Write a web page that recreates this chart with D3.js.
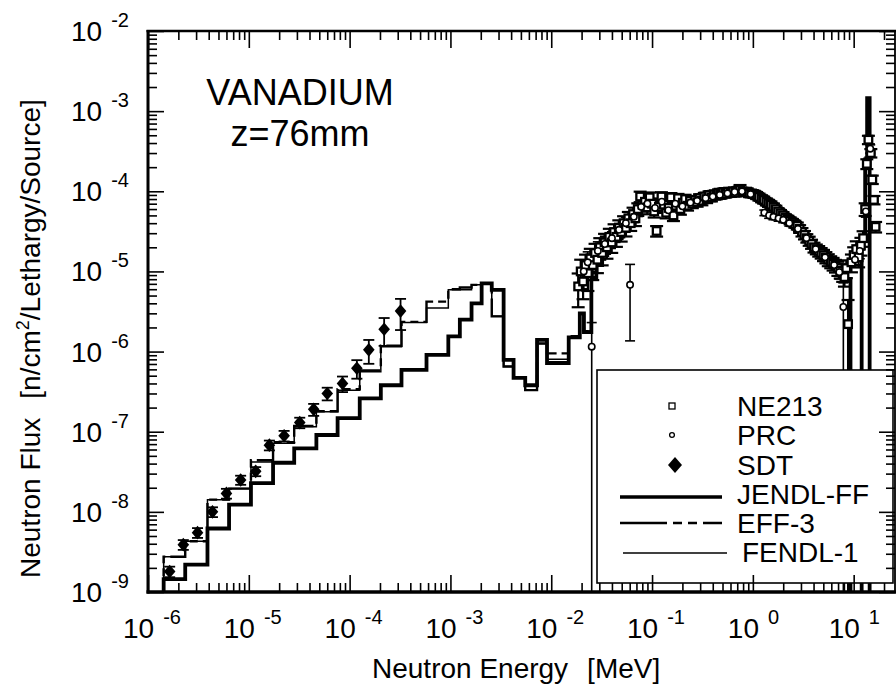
<!DOCTYPE html>
<html>
<head>
<meta charset="utf-8">
<script src="https://cdn.jsdelivr.net/npm/d3@7"></script>
<style>
  body { margin: 0; background: #fff; }
  svg { display: block; }
  text { font-family: "Liberation Sans", Arial, Helvetica, sans-serif; fill: #000; }
</style>
</head>
<body>
<svg id="chart" width="896" height="685"></svg>
<script>
// ---- Group structure shared by the three calculations (MeV) ----
const groupEdges = [
  1.43e-6, 2.34e-6, 3.89e-6, 6.37e-6, 1.05e-5, 1.74e-5, 2.82e-5, 4.68e-5, 7.6e-5, 1.26e-4,
  2.04e-4, 3.27e-4, 5.79e-4, 9.53e-4,
  1.24e-3, 1.62e-3, 2.04e-3, 2.57e-3, 3.37e-3, 4.23e-3, 5.52e-3, 7.23e-3, 9.08e-3, 1.49e-2,
  1.92e-2, 2.11e-2, 2.5e-2,
  2.8e-2, 3.2e-2, 3.6e-2, 4.2e-2, 5.0e-2, 5.8e-2, 6.7e-2, 7.8e-2, 9.0e-2, 0.105,
  0.12, 0.14, 0.165, 0.19, 0.22, 0.26, 0.30, 0.35, 0.41, 0.50,
  0.60, 0.72, 0.86, 1.0, 1.2, 1.4, 1.7, 2.0, 2.4, 2.9,
  3.5, 4.2, 5.0, 6.0, 7.2, 8.6, 9.3, 12.0, 13.0, 13.6, 14.4
];

// Group fluxes, n/cm2/lethargy/source (0 = empty group, off scale)
const jendlFF = [
  1.45e-9, 2.2e-9, 6.2e-9, 1.23e-8, 2.28e-8, 4.1e-8, 6.2e-8, 9.1e-8, 1.48e-7, 2.6e-7,
  3.8e-7, 5.9e-7, 9.1e-7,
  1.55e-6, 2.5e-6, 4.0e-6, 7.1e-6, 5.9e-6, 7.9e-7, 4.7e-7, 3.8e-7, 1.4e-6, 7.2e-7,
  1.5e-6, 3.0e-6, 1.75e-6,
  8.0e-6, 1.2e-5, 1.6e-5, 2.0e-5, 2.6e-5, 3.3e-5, 4.0e-5, 5.0e-5, 7.0e-5, 7.8e-5,
  5.5e-5, 7.6e-5, 6.0e-5, 7.2e-5, 6.6e-5, 7.0e-5, 7.4e-5, 8.0e-5, 8.6e-5, 9.2e-5,
  9.6e-5, 9.9e-5, 1.0e-4, 9.6e-5, 8.8e-5, 7.8e-5, 6.9e-5, 5.8e-5, 4.8e-5, 4.0e-5,
  3.1e-5, 2.4e-5, 1.9e-5, 1.5e-5, 1.2e-5, 9.5e-6, 8.0e-6, 0, 2.5e-5, 2.5e-4, 1.45e-3
];
const eff3 = [
  2.75e-9, 4.3e-9, 1.42e-8, 1.95e-8, 4.4e-8, 7.4e-8, 1.18e-7, 1.8e-7, 3.4e-7, 5.8e-7,
  1.18e-6, 2.35e-6, 4.2e-6,
  6.0e-6, 6.3e-6, 6.8e-6, 7.1e-6, 2.75e-6, 6.5e-7, 4.7e-7, 3.3e-7, 1.26e-6, 9.5e-7,
  1.55e-6, 2.9e-6, 1.8e-6,
  8.5e-6, 1.25e-5, 1.65e-5, 2.1e-5, 2.7e-5, 3.4e-5, 4.2e-5, 5.2e-5, 7.2e-5, 8.0e-5,
  5.8e-5, 7.8e-5, 6.2e-5, 7.4e-5, 6.8e-5, 7.2e-5, 7.6e-5, 8.2e-5, 8.8e-5, 9.4e-5,
  9.8e-5, 1.0e-4, 1.0e-4, 9.5e-5, 8.6e-5, 7.6e-5, 6.7e-5, 5.6e-5, 4.7e-5, 3.9e-5,
  3.0e-5, 2.35e-5, 1.85e-5, 1.45e-5, 1.15e-5, 9.2e-6, 7.8e-6, 0, 2.4e-5, 2.4e-4, 1.4e-3
];
const fendl1 = [
  2.75e-9, 4.3e-9, 1.42e-8, 1.95e-8, 4.2e-8, 7.2e-8, 1.15e-7, 1.78e-7, 3.3e-7, 5.6e-7,
  1.15e-6, 2.3e-6, 3.5e-6,
  5.9e-6, 5.9e-6, 6.8e-6, 7.1e-6, 2.75e-6, 6.5e-7, 4.7e-7, 3.3e-7, 1.26e-6, 8.0e-7,
  1.5e-6, 2.9e-6, 1.8e-6,
  8.2e-6, 1.22e-5, 1.62e-5, 2.05e-5, 2.65e-5, 3.35e-5, 4.1e-5, 5.1e-5, 7.1e-5, 7.9e-5,
  5.6e-5, 7.7e-5, 6.1e-5, 7.3e-5, 6.7e-5, 7.1e-5, 7.5e-5, 8.1e-5, 8.7e-5, 9.3e-5,
  9.7e-5, 1.0e-4, 1.0e-4, 9.6e-5, 8.7e-5, 7.7e-5, 6.8e-5, 5.7e-5, 4.75e-5, 3.95e-5,
  3.05e-5, 2.4e-5, 1.9e-5, 1.5e-5, 1.18e-5, 9.4e-6, 7.9e-6, 0, 2.5e-5, 2.45e-4, 1.42e-3
];

// ---- Measurements: [energy MeV, flux, relative error] ----
const ne213 = [
  [0.0185, 6.5e-6, 0.45], [0.0196, 1.0e-5, 0.4], [0.0207, 7.5e-6, 0.4], [0.0219, 1.2e-5, 0.35],
  [0.0231, 9.5e-6, 0.4], [0.0244, 1.45e-5, 0.32], [0.0258, 1.2e-5, 0.35], [0.0272, 1.7e-5, 0.3],
  [0.0287, 1.4e-5, 0.32], [0.0303, 2.0e-5, 0.3], [0.032, 1.7e-5, 0.3], [0.0338, 2.3e-5, 0.28],
  [0.0357, 2.0e-5, 0.28], [0.0377, 2.7e-5, 0.26], [0.0398, 2.3e-5, 0.26], [0.042, 3.1e-5, 0.25],
  [0.0443, 2.7e-5, 0.25], [0.0468, 3.5e-5, 0.24], [0.0494, 3.1e-5, 0.24], [0.0522, 4.0e-5, 0.22],
  [0.0551, 3.5e-5, 0.22], [0.0582, 4.6e-5, 0.2], [0.0614, 4.0e-5, 0.2], [0.0648, 5.2e-5, 0.2],
  [0.0684, 4.6e-5, 0.2], [0.0722, 6.0e-5, 0.18], [0.0762, 8.6e-5, 0.15], [0.0805, 6.8e-5, 0.18],
  [0.085, 7.4e-5, 0.16], [0.0897, 6.3e-5, 0.18], [0.0947, 8.4e-5, 0.15], [0.1, 7.0e-5, 0.16],
  [0.105, 5.6e-5, 0.16], [0.111, 3.2e-5, 0.15], [0.117, 6.4e-5, 0.15], [0.124, 8.6e-5, 0.13],
  [0.131, 6.8e-5, 0.15], [0.138, 5.4e-5, 0.15], [0.146, 6.2e-5, 0.15], [0.154, 8.4e-5, 0.13],
  [0.163, 5.0e-5, 0.15], [0.172, 6.6e-5, 0.15], [0.181, 8.2e-5, 0.13], [0.191, 6.0e-5, 0.15],
  [0.202, 7.2e-5, 0.13], [0.213, 8.0e-5, 0.13], [0.225, 6.6e-5, 0.13], [0.238, 7.6e-5, 0.13],
  [0.251, 7.0e-5, 0.12], [0.265, 7.8e-5, 0.12], [0.28, 7.3e-5, 0.12], [0.296, 8.2e-5, 0.12],
  [0.312, 7.6e-5, 0.12], [0.33, 8.6e-5, 0.11], [0.348, 8.0e-5, 0.11], [0.368, 9.0e-5, 0.11],
  [0.388, 8.4e-5, 0.11], [0.41, 9.2e-5, 0.1], [0.433, 8.8e-5, 0.1], [0.457, 9.6e-5, 0.1],
  [0.482, 9.0e-5, 0.1], [0.51, 9.8e-5, 0.1], [0.538, 9.3e-5, 0.1], [0.568, 9.9e-5, 0.1],
  [0.6, 9.5e-5, 0.1], [0.634, 1.0e-4, 0.1], [0.669, 9.6e-5, 0.1], [0.707, 1.02e-4, 0.1],
  [0.746, 1.05e-4, 0.14], [0.788, 1.0e-4, 0.1], [0.832, 9.7e-5, 0.1], [0.878, 9.9e-5, 0.1],
  [0.927, 9.4e-5, 0.1], [0.979, 9.4e-5, 0.1], [1.034, 9.2e-5, 0.1], [1.09, 8.9e-5, 0.1],
  [1.15, 8.5e-5, 0.1], [1.22, 8.1e-5, 0.1], [1.28, 7.8e-5, 0.1], [1.36, 7.4e-5, 0.1],
  [1.43, 7.1e-5, 0.1], [1.51, 6.8e-5, 0.1], [1.6, 6.4e-5, 0.1], [1.69, 6.0e-5, 0.1],
  [1.78, 5.6e-5, 0.1], [1.88, 5.3e-5, 0.1], [1.99, 5.0e-5, 0.1], [2.1, 4.7e-5, 0.1],
  [2.22, 4.5e-5, 0.1], [2.34, 4.3e-5, 0.1], [2.47, 4.1e-5, 0.1], [2.61, 3.9e-5, 0.1],
  [2.76, 3.7e-5, 0.1], [2.91, 3.4e-5, 0.11], [3.07, 3.1e-5, 0.12], [3.25, 2.85e-5, 0.12],
  [3.43, 2.6e-5, 0.12], [3.62, 2.4e-5, 0.13], [3.82, 2.2e-5, 0.13], [4.04, 2.0e-5, 0.14],
  [4.26, 1.9e-5, 0.14], [4.5, 1.8e-5, 0.15], [4.76, 1.7e-5, 0.15], [5.02, 1.6e-5, 0.16],
  [5.3, 1.5e-5, 0.16], [5.6, 1.4e-5, 0.17], [5.92, 1.32e-5, 0.17], [6.25, 1.25e-5, 0.18],
  [6.6, 1.18e-5, 0.18], [6.97, 1.1e-5, 0.2], [7.36, 1.02e-5, 0.2], [7.78, 9.5e-6, 0.22],
  [8.1, 8.5e-6, 0.24], [8.45, 1.1e-5, 0.25], [8.8, 2.2e-6, 1.0], [9.5, 1.3e-5, 0.25],
  [10.0, 1.6e-5, 0.25], [10.6, 1.9e-5, 0.25], [11.2, 1.5e-5, 0.25], [11.8, 2.1e-5, 0.25],
  [12.4, 2.6e-5, 0.22], [13.0, 6.0e-5, 0.18], [13.5, 2.2e-4, 0.14], [14.0, 4.4e-4, 0.12],
  [14.8, 3.0e-4, 0.12], [15.3, 1.4e-4, 0.12], [15.9, 7.8e-5, 0.12], [16.5, 3.6e-5, 0.15]
];

const prc = [
  [0.021, 1.0e-5, 0.4], [0.023, 1.3e-5, 0.35], [0.0252, 1.15e-6, 1.0], [0.029, 1.8e-5, 0.3],
  [0.034, 2.2e-5, 0.25], [0.04, 2.6e-5, 0.2], [0.047, 3.3e-5, 0.2], [0.055, 4.0e-5, 0.18],
  [0.0605, 6.8e-6, 0.8], [0.066, 4.8e-5, 0.15], [0.078, 6.4e-5, 0.12], [0.09, 7.0e-5, 0.12],
  [0.107, 6.2e-5, 0.1], [0.125, 7.4e-5, 0.1], [0.145, 5.8e-5, 0.1], [0.17, 7.0e-5, 0.1],
  [0.2, 6.5e-5, 0.08], [0.24, 7.2e-5, 0.08], [0.28, 7.6e-5, 0.08], [0.34, 8.2e-5, 0.07],
  [0.4, 8.6e-5, 0.07], [0.47, 9.0e-5, 0.07], [0.56, 9.4e-5, 0.07], [0.66, 9.8e-5, 0.07],
  [0.78, 1.0e-4, 0.07], [0.95, 9.2e-5, 0.07], [1.3, 5.4e-5, 0.08], [1.45, 5.0e-5, 0.08],
  [1.6, 4.8e-5, 0.08], [1.8, 4.6e-5, 0.08], [2.0, 4.4e-5, 0.08], [2.3, 4.0e-5, 0.08],
  [2.8, 3.4e-5, 0.08], [3.4, 2.6e-5, 0.1], [4.2, 1.9e-5, 0.1], [5.2, 1.5e-5, 0.12],
  [6.4, 1.2e-5, 0.14], [7.2, 9.8e-6, 0.18], [7.9, 3.6e-6, 1.0], [10.3, 1.4e-5, 0.2],
  [11.5, 1.8e-5, 0.2], [13.2, 5.6e-5, 0.15], [14.6, 3.4e-4, 0.12]
];

const sdt = [
  [1.64e-6, 1.8e-9, 0.15], [2.24e-6, 3.9e-9, 0.14], [3.1e-6, 5.5e-9, 0.14], [4.36e-6, 1.0e-8, 0.14],
  [6.0e-6, 1.7e-8, 0.14], [8.3e-6, 2.5e-8, 0.13], [1.17e-5, 3.2e-8, 0.13], [1.6e-5, 6.8e-8, 0.14],
  [2.24e-5, 8.9e-8, 0.15], [3.2e-5, 1.3e-7, 0.15], [4.4e-5, 1.9e-7, 0.17], [6.0e-5, 3.0e-7, 0.18],
  [8.5e-5, 4.0e-7, 0.22], [1.18e-4, 6.2e-7, 0.26], [1.55e-4, 1.05e-6, 0.33], [2.2e-4, 1.9e-6, 0.38],
  [3.2e-4, 3.2e-6, 0.42]
];

// ---- Axis labelling ----
const xDecades = [-6, -5, -4, -3, -2, -1, 0, 1];
const yDecades = [-9, -8, -7, -6, -5, -4, -3, -2];
const legendEntries = ["NE213", "PRC", "SDT", "JENDL-FF", "EFF-3", "FENDL-1"];

// ---- Layout ----
const svg = d3.select("#chart");
const x = d3.scaleLog().domain([1e-6, 25.7]).range([148, 895]);
const y = d3.scaleLog().domain([1e-9, 1e-2]).range([592, 31]);
const floorV = 1e-10;   // values below the axis are drawn to here and clipped
const [x0, x1] = x.range();
const [yb, yt] = y.range();

svg.append("defs").append("clipPath").attr("id", "plotClip")
  .append("rect").attr("x", x0).attr("y", yt).attr("width", x1 - x0).attr("height", yb - yt);

const plot = svg.append("g").attr("clip-path", "url(#plotClip)");
const yv = v => y(Math.max(v, floorV));

// Histogram step lines
function stepPoints(edges, vals) {
  const pts = [[edges[0], floorV]];
  vals.forEach((v, i) => pts.push([edges[i], Math.max(v, floorV)]));
  pts.push([edges[edges.length - 1], Math.max(vals[vals.length - 1], floorV)]);
  pts.push([edges[edges.length - 1], floorV]);
  return pts;
}
const stepLine = d3.line().x(d => x(d[0])).y(d => y(d[1])).curve(d3.curveStepAfter);

plot.append("path").attr("d", stepLine(stepPoints(groupEdges, fendl1)))
  .attr("fill", "none").attr("stroke", "#000").attr("stroke-width", 1.5);
plot.append("path").attr("d", stepLine(stepPoints(groupEdges, eff3)))
  .attr("fill", "none").attr("stroke", "#000").attr("stroke-width", 2.4)
  .attr("stroke-dasharray", "30,5,8,5,8,5");
plot.append("path").attr("d", stepLine(stepPoints(groupEdges, jendlFF)))
  .attr("fill", "none").attr("stroke", "#000").attr("stroke-width", 3.8)
  .attr("stroke-linejoin", "miter");

// Error bars with caps
function errorBars(g, data, cap, sw) {
  const sel = g.append("g").selectAll("g").data(data).join("g");
  sel.append("line")
    .attr("x1", d => x(d[0])).attr("x2", d => x(d[0]))
    .attr("y1", d => yv(d[1] * (1 - d[2]))).attr("y2", d => yv(d[1] * (1 + d[2])))
    .attr("stroke", "#000").attr("stroke-width", sw);
  [-1, 1].forEach(s => {
    sel.append("line")
      .attr("x1", d => x(d[0]) - cap / 2).attr("x2", d => x(d[0]) + cap / 2)
      .attr("y1", d => yv(d[1] * (1 + s * d[2]))).attr("y2", d => yv(d[1] * (1 + s * d[2])))
      .attr("stroke", "#000").attr("stroke-width", sw);
  });
}
errorBars(plot, ne213, 13, 2.2);
errorBars(plot, prc, 10, 1.6);
errorBars(plot, sdt, 11, 1.8);

plot.append("g").selectAll("rect").data(ne213).join("rect")
  .attr("x", d => x(d[0]) - 3.8).attr("y", d => yv(d[1]) - 3.8)
  .attr("width", 7.6).attr("height", 7.6)
  .attr("fill", "#fff").attr("stroke", "#000").attr("stroke-width", 2.3);
plot.append("g").selectAll("circle").data(prc).join("circle")
  .attr("cx", d => x(d[0])).attr("cy", d => yv(d[1])).attr("r", 3.2)
  .attr("fill", "#fff").attr("stroke", "#000").attr("stroke-width", 1.6);
const diamondPath = (w, h) => `M0,${-h}L${w},0L0,${h}L${-w},0Z`;
plot.append("g").selectAll("path").data(sdt).join("path")
  .attr("transform", d => `translate(${x(d[0])},${yv(d[1])})`)
  .attr("d", diamondPath(5.8, 6.8)).attr("fill", "#000");

// ---- Legend ----
const leg = svg.append("g");
leg.append("rect").attr("x", 597).attr("y", 370).attr("width", 296).attr("height", 213)
  .attr("fill", "#fff").attr("stroke", "#000").attr("stroke-width", 1.6);
const rowY = [406, 435, 465, 494, 523, 552];
leg.selectAll("text").data(legendEntries).join("text")
  .attr("x", (d, i) => i === 5 ? 742 : 737).attr("y", (d, i) => rowY[i] + 10)
  .attr("font-size", 28).text(d => d);
leg.append("rect").attr("x", 669).attr("y", rowY[0] - 3).attr("width", 6).attr("height", 6)
  .attr("fill", "#fff").attr("stroke", "#000").attr("stroke-width", 1.3);
leg.append("circle").attr("cx", 672).attr("cy", rowY[1]).attr("r", 2.4)
  .attr("fill", "#fff").attr("stroke", "#000").attr("stroke-width", 1.3);
leg.append("path").attr("transform", `translate(675,${rowY[2]})`)
  .attr("d", diamondPath(7, 8)).attr("fill", "#000");
leg.append("line").attr("x1", 620).attr("x2", 722).attr("y1", rowY[3] + 3).attr("y2", rowY[3] + 3)
  .attr("stroke", "#000").attr("stroke-width", 3.6);
leg.append("line").attr("x1", 620).attr("x2", 722).attr("y1", rowY[4]).attr("y2", rowY[4])
  .attr("stroke", "#000").attr("stroke-width", 2.6).attr("stroke-dasharray", "47,6,9,6,9,6,9,0");
leg.append("line").attr("x1", 623).attr("x2", 727).attr("y1", rowY[5] + 1).attr("y2", rowY[5] + 1)
  .attr("stroke", "#000").attr("stroke-width", 1.4);

// ---- Axes ----
const isMajor = v => Math.abs(Math.log10(v) - Math.round(Math.log10(v))) < 1e-9;
const xt = x.ticks(), ytk = y.ticks();
const xMajor = xt.filter(isMajor), xMinor = xt.filter(v => !isMajor(v));
const yMajor = ytk.filter(isMajor), yMinor = ytk.filter(v => !isMajor(v));

function addAxis(gen, vals, size, tr) {
  const g = svg.append("g").attr("transform", tr)
    .call(gen.tickValues(vals).tickSize(size).tickFormat(() => ""));
  g.select(".domain").remove();
  g.selectAll(".tick line").attr("stroke", "#000").attr("stroke-width", 1.6);
}
addAxis(d3.axisBottom(x), xMinor, -9, `translate(0,${yb})`);
addAxis(d3.axisBottom(x), xMajor, -17, `translate(0,${yb})`);
addAxis(d3.axisTop(x), xMinor, -9, `translate(0,${yt})`);
addAxis(d3.axisTop(x), xMajor, -17, `translate(0,${yt})`);
addAxis(d3.axisLeft(y), yMinor, -9, `translate(${x0},0)`);
addAxis(d3.axisLeft(y), yMajor, -16, `translate(${x0},0)`);
addAxis(d3.axisRight(y), yMinor, -9, `translate(${x1},0)`);
addAxis(d3.axisRight(y), yMajor, -16, `translate(${x1},0)`);

// frame
svg.append("line").attr("x1", x0 - 1.5).attr("x2", x1 + 2).attr("y1", yb).attr("y2", yb)
  .attr("stroke", "#000").attr("stroke-width", 3.4);
svg.append("line").attr("x1", x0).attr("x2", x0).attr("y1", yt - 1).attr("y2", yb + 1.5)
  .attr("stroke", "#000").attr("stroke-width", 3);
svg.append("line").attr("x1", x0 - 1.5).attr("x2", x1 + 2).attr("y1", yt).attr("y2", yt)
  .attr("stroke", "#000").attr("stroke-width", 2.6);
svg.append("line").attr("x1", x1).attr("x2", x1).attr("y1", yt).attr("y2", yb)
  .attr("stroke", "#000").attr("stroke-width", 1.8);

// tick labels
const xl = svg.append("g").selectAll("text").data(xDecades).join("text")
  .attr("x", d => x(Math.pow(10, d)) - 25).attr("y", 638).attr("font-size", 28);
xl.append("tspan").text("10");
xl.append("tspan").attr("dx", 9).attr("dy", -14).attr("font-size", 20).text(d => d);

const yl = svg.append("g").selectAll("text").data(yDecades).join("text")
  .attr("x", 129).attr("y", d => y(Math.pow(10, d)) + 10).attr("font-size", 28)
  .attr("text-anchor", "end");
yl.append("tspan").text("10");
yl.append("tspan").attr("dx", 9).attr("dy", -14).attr("font-size", 20).text(d => d);

// axis titles
const xTitle = svg.append("text").attr("x", 372).attr("y", 678).attr("font-size", 28);
xTitle.append("tspan").text("Neutron Energy");
xTitle.append("tspan").attr("dx", 19).text("[MeV]");

const yTitle = svg.append("text").attr("transform", "translate(40,578) rotate(-90)")
  .attr("font-size", 28);
yTitle.append("tspan").text("Neutron Flux");
yTitle.append("tspan").attr("dx", 19).text("[n/cm");
yTitle.append("tspan").attr("dy", -11).attr("font-size", 18).text("2");
yTitle.append("tspan").attr("dy", 11).text("/Lethargy/Source]");

// title
svg.append("text").attr("x", 300).attr("y", 105).attr("text-anchor", "middle")
  .attr("font-size", 36).text("VANADIUM");
svg.append("text").attr("x", 300).attr("y", 146).attr("text-anchor", "middle")
  .attr("font-size", 36).text("z=76mm");
</script>
</body>
</html>
